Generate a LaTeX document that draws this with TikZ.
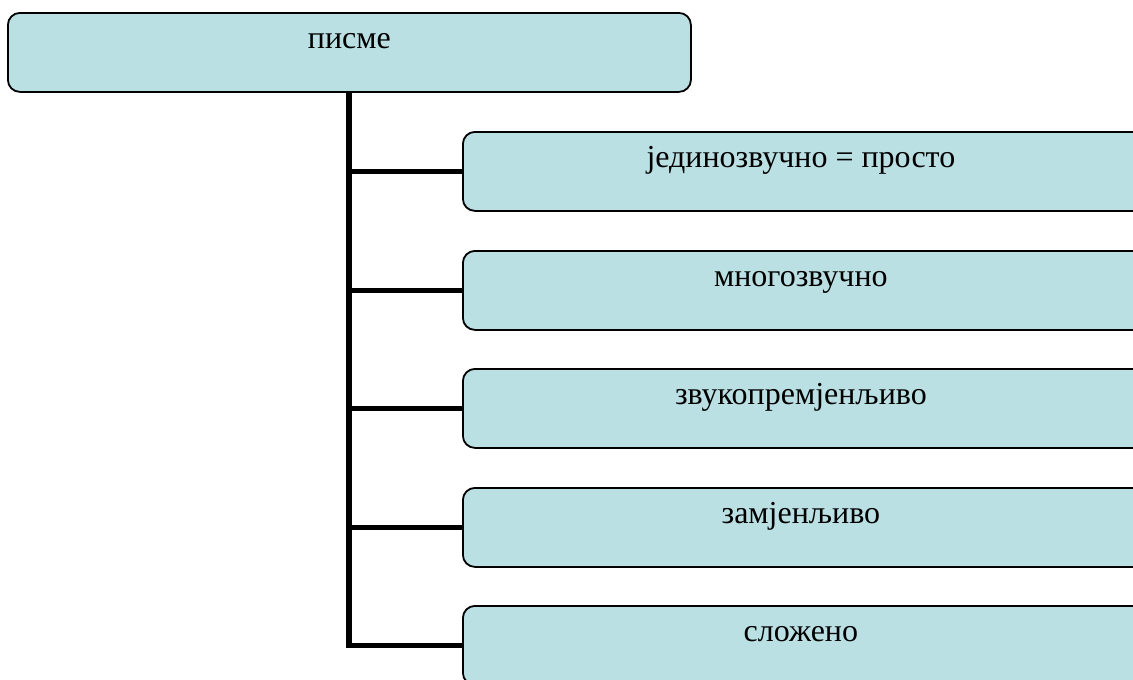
\documentclass[tikz,border=0pt]{standalone}
\usepackage{fontspec}
\setmainfont{Liberation Serif}
\definecolor{boxfill}{RGB}{186,224,228}
\begin{document}
\begin{tikzpicture}[x=1pt,y=-1pt,
  box/.style={draw=black, line width=1.8pt, fill=boxfill, rounded corners=12pt,
    anchor=north west, inner xsep=0pt, inner ysep=0pt,
    text height=36pt, text depth=43pt,
    font=\fontsize{32}{38}\selectfont},
  child/.style={box, minimum width=700pt},
  link/.style={line width=5.5pt, black}]
\useasboundingbox (0,0) rectangle (1133,680);
\clip (0,0) rectangle (1133,680);
\node[box, minimum width=683pt] (top) at (7,12) {писме};
\node[child] (c1) at (462,131) {\hspace*{-24pt}јединозвучно = просто};
\node[child] (c2) at (462,250) {\hspace*{-24pt}многозвучно};
\node[child] (c3) at (462,368) {\hspace*{-24pt}звукопремјенљиво};
\node[child] (c4) at (462,487) {\hspace*{-24pt}замјенљиво};
\node[child] (c5) at (462,605) {\hspace*{-24pt}сложено};
\coordinate (sp) at (349,0);
\draw[link] (top.south -| sp) |- (c5.west);
\foreach \c in {c1,c2,c3,c4}{
  \draw[link] (\c.west -| sp) -- (\c.west);
}
\end{tikzpicture}
\end{document}
